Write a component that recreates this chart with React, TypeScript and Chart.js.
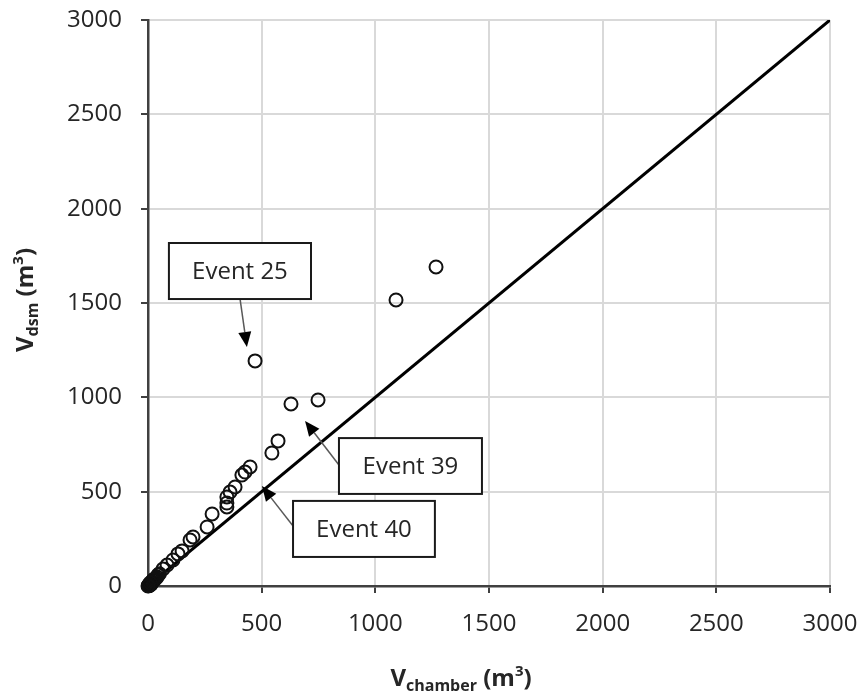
import React, { useEffect, useRef } from 'react';
import { Chart, registerables } from 'chart.js';

Chart.register(...registerables);

// Measured event volumes (m³)
const vChamber = [1267, 1091, 471, 748, 629, 572, 545, 449, 427, 413, 383, 361, 347, 347, 347, 282, 260, 198, 185, 150, 132, 110, 84, 66, 50, 44, 40, 35, 30, 28, 25, 22, 18, 15, 14, 12, 10, 9, 7, 5, 4, 3, 2, 0];
const vDsm = [1691, 1516, 1193, 986, 965, 769, 705, 631, 604, 588, 525, 498, 472, 440, 419, 382, 313, 260, 244, 186, 170, 138, 111, 90, 65, 58, 48, 42, 38, 35, 28, 32, 22, 20, 10, 10, 12, 16, 3, 5, 6, 2, 1, 0];

// 1:1 line
const lineX = [0, 3000];
const lineY = [0, 3000];

const axisMin = 0;
const axisMax = 3000;
const axisStep = 500;

// Annotation labels (anchored in data units)
const eventLabels = ['Event 25', 'Event 39', 'Event 40'];
const eventBoxes = [
  [92, 1818, 717, 1521],
  [840, 784, 1469, 488],
  [638, 451, 1262, 154],
];
const eventArrowFrom = [
  [405, 1521],
  [840, 641],
  [638, 318],
];
const eventArrowTo = [
  [435, 1267],
  [691, 875],
  [501, 530],
];

const FONT = '"Open Sans", "Noto Sans", sans-serif';

type Piece = { t: string; size: number; dy: number };

function drawPieces(ctx: CanvasRenderingContext2D, pieces: Piece[], cx: number, baseY: number) {
  let total = 0;
  for (const p of pieces) {
    ctx.font = `bold ${p.size}px ${FONT}`;
    total += ctx.measureText(p.t).width;
  }
  let x = cx - total / 2;
  ctx.textAlign = 'left';
  ctx.textBaseline = 'alphabetic';
  for (const p of pieces) {
    ctx.font = `bold ${p.size}px ${FONT}`;
    ctx.fillText(p.t, x, baseY + p.dy);
    x += ctx.measureText(p.t).width;
  }
}

const annotationPlugin = {
  id: 'annotationsAndTitles',
  afterDatasetsDraw(chart: any) {
    const { ctx, scales } = chart;
    const xs = scales.x;
    const ys = scales.y;
    ctx.save();
    for (let i = 0; i < eventLabels.length; i++) {
      const [bx1, by1, bx2, by2] = eventBoxes[i];
      const x1 = xs.getPixelForValue(bx1);
      const x2 = xs.getPixelForValue(bx2);
      const y1 = ys.getPixelForValue(by1);
      const y2 = ys.getPixelForValue(by2);
      // arrow
      const fx = xs.getPixelForValue(eventArrowFrom[i][0]);
      const fy = ys.getPixelForValue(eventArrowFrom[i][1]);
      const tx = xs.getPixelForValue(eventArrowTo[i][0]);
      const ty = ys.getPixelForValue(eventArrowTo[i][1]);
      const ang = Math.atan2(ty - fy, tx - fx);
      const headLen = 15;
      const headHalf = 6.5;
      const bxp = tx - headLen * Math.cos(ang);
      const byp = ty - headLen * Math.sin(ang);
      ctx.strokeStyle = '#595959';
      ctx.lineWidth = 1.5;
      ctx.beginPath();
      ctx.moveTo(fx, fy);
      ctx.lineTo(bxp, byp);
      ctx.stroke();
      ctx.fillStyle = '#000';
      ctx.beginPath();
      ctx.moveTo(tx, ty);
      ctx.lineTo(bxp + headHalf * Math.sin(ang), byp - headHalf * Math.cos(ang));
      ctx.lineTo(bxp - headHalf * Math.sin(ang), byp + headHalf * Math.cos(ang));
      ctx.closePath();
      ctx.fill();
      // box
      ctx.fillStyle = '#fff';
      ctx.fillRect(x1, y1, x2 - x1, y2 - y1);
      ctx.strokeStyle = '#1a1a1a';
      ctx.lineWidth = 2;
      ctx.strokeRect(x1, y1, x2 - x1, y2 - y1);
      ctx.fillStyle = '#262626';
      ctx.font = `24px ${FONT}`;
      ctx.textAlign = 'center';
      ctx.textBaseline = 'middle';
      ctx.fillText(eventLabels[i], (x1 + x2) / 2, (y1 + y2) / 2 + 1);
    }
    ctx.restore();
  },
  afterDraw(chart: any) {
    const { ctx } = chart;
    ctx.save();
    ctx.fillStyle = '#262626';
    // x axis title
    drawPieces(
      ctx,
      [
        { t: 'V', size: 24, dy: 0 },
        { t: 'chamber', size: 16, dy: 5 },
        { t: ' (m', size: 24, dy: 0 },
        { t: '3', size: 15, dy: -10 },
        { t: ')', size: 24, dy: 0 },
      ],
      461,
      686
    );
    // y axis title
    ctx.translate(33, 300);
    ctx.rotate(-Math.PI / 2);
    drawPieces(
      ctx,
      [
        { t: 'V', size: 24, dy: 0 },
        { t: 'dsm', size: 16, dy: 5 },
        { t: ' (m', size: 24, dy: 0 },
        { t: '3', size: 15, dy: -10 },
        { t: ')', size: 24, dy: 0 },
      ],
      0,
      0
    );
    ctx.restore();
  },
};

export default function App() {
  const ref = useRef<HTMLCanvasElement | null>(null);

  useEffect(() => {
    if (!ref.current) return;
    const axisCommon = (axis: 'x' | 'y') => ({
      type: 'linear' as const,
      min: axisMin,
      max: axisMax,
      grid: {
        color: '#d9d9d9',
        lineWidth: 2,
        tickColor: '#404040',
        tickWidth: 2,
        tickLength: 7,
        drawTicks: true,
      },
      border: { color: '#404040', width: 2.5 },
      ticks: {
        stepSize: axisStep,
        color: '#262626',
        font: { family: FONT, size: 24 },
        padding: axis === 'y' ? 19 : 17,
        maxRotation: 0,
        callback: (v: any) => String(v),
      },
      afterFit: (s: any) => {
        if (axis === 'y') {
          s.width = 148;
          s.paddingTop = 0;
          s.paddingBottom = 0;
        } else {
          s.height = 111;
          s.paddingLeft = 0;
          s.paddingRight = 0;
        }
      },
    });

    const chart = new Chart(ref.current, {
      type: 'scatter',
      data: {
        datasets: [
          {
            data: vChamber.map((x, i) => ({ x, y: vDsm[i] })),
            pointStyle: 'circle',
            pointRadius: 6.5,
            borderColor: '#111',
            borderWidth: 2,
            backgroundColor: 'rgba(0,0,0,0)',
            clip: false as any,
            order: 1,
          },
          {
            data: lineX.map((x, i) => ({ x, y: lineY[i] })),
            showLine: true,
            borderColor: '#000',
            borderWidth: 3,
            pointRadius: 0,
            order: 2,
          },
        ],
      },
      options: {
        animation: false,
        responsive: false,
        maintainAspectRatio: false,
        layout: { padding: { left: 0, top: 20, right: 33, bottom: 0 } },
        plugins: { legend: { display: false }, tooltip: { enabled: false } },
        scales: {
          x: axisCommon('x') as any,
          y: axisCommon('y') as any,
        },
      },
      plugins: [annotationPlugin],
    });
    return () => chart.destroy();
  }, []);

  return (
    <div style={{ position: 'absolute', left: 0, top: 0, width: 863, height: 697, background: '#fff' }}>
      <canvas ref={ref} width={863} height={697} style={{ display: 'block' }} />
    </div>
  );
}
